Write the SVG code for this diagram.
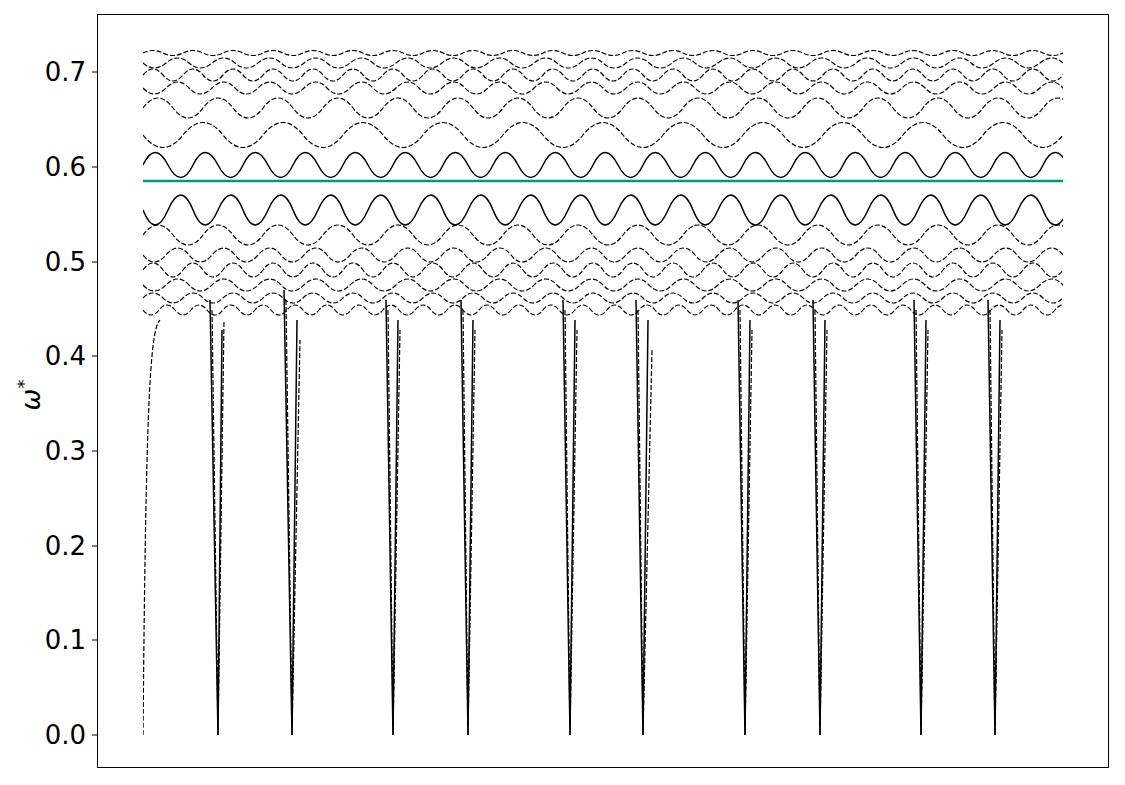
<svg xmlns="http://www.w3.org/2000/svg" width="1125" height="785" viewBox="0 0 1125 785">
<style>
.t{font-family:"DejaVu Sans",sans-serif;font-size:26px;fill:#000;text-anchor:end}
.d{fill:none;stroke:#000;stroke-width:1.2;stroke-dasharray:5,2}
.s{fill:none;stroke:#000;stroke-width:1.5}
</style>
<defs><clipPath id="c"><rect x="143" y="20" width="920" height="720"/></clipPath></defs>
<rect x="0" y="0" width="1125" height="785" fill="#fff"/>
<g id="axes">
<rect x="97.5" y="14.5" width="1011" height="753" fill="none" stroke="#000" stroke-width="1"/>
<g stroke="#000"><line x1="92" y1="735" x2="97" y2="735"/><line x1="92" y1="640" x2="97" y2="640"/><line x1="92" y1="546" x2="97" y2="546"/><line x1="92" y1="451" x2="97" y2="451"/><line x1="92" y1="356" x2="97" y2="356"/><line x1="92" y1="262" x2="97" y2="262"/><line x1="92" y1="167" x2="97" y2="167"/><line x1="92" y1="72" x2="97" y2="72"/></g>
<text class="t" x="86" y="744">0.0</text><text class="t" x="86" y="649">0.1</text><text class="t" x="86" y="555">0.2</text><text class="t" x="86" y="460">0.3</text><text class="t" x="86" y="365">0.4</text><text class="t" x="86" y="271">0.5</text><text class="t" x="86" y="176">0.6</text><text class="t" x="86" y="81">0.7</text>
<text x="40" y="395" font-family="DejaVu Sans,sans-serif" font-size="26" font-style="italic" transform="rotate(-90 40 395)" text-anchor="middle">ω<tspan dy="-10" font-size="18">*</tspan></text>
</g>
<g id="curves" clip-path="url(#c)">
<path class="d" d="M143,53 q10,-5 20,0 t20,0 t20,0 t20,0 t20,0 t20,0 t20,0 t20,0 t20,0 t20,0 t20,0 t20,0 t20,0 t20,0 t20,0 t20,0 t20,0 t20,0 t20,0 t20,0 t20,0 t20,0 t20,0 t20,0 t20,0 t20,0 t20,0 t20,0 t20,0 t20,0 t20,0 t20,0 t20,0 t20,0 t20,0 t20,0 t20,0 t20,0 t20,0 t20,0 t20,0 t20,0 t20,0 t20,0 t20,0 t20,0 t20,0 t20,0"/>
<path class="d" d="M143,63 q11,10 23,0 t23,0 t23,0 t23,0 t23,0 t23,0 t23,0 t23,0 t23,0 t23,0 t23,0 t23,0 t23,0 t23,0 t23,0 t23,0 t23,0 t23,0 t23,0 t23,0 t23,0 t23,0 t23,0 t23,0 t23,0 t23,0 t23,0 t23,0 t23,0 t23,0 t23,0 t23,0 t23,0 t23,0 t23,0 t23,0 t23,0 t23,0 t23,0 t23,0 t23,0 t23,0"/>
<path class="d" d="M143,75 q10,-12 20,0 t20,0 t20,0 t20,0 t20,0 t20,0 t20,0 t20,0 t20,0 t20,0 t20,0 t20,0 t20,0 t20,0 t20,0 t20,0 t20,0 t20,0 t20,0 t20,0 t20,0 t20,0 t20,0 t20,0 t20,0 t20,0 t20,0 t20,0 t20,0 t20,0 t20,0 t20,0 t20,0 t20,0 t20,0 t20,0 t20,0 t20,0 t20,0 t20,0 t20,0 t20,0 t20,0 t20,0 t20,0 t20,0 t20,0 t20,0"/>
<path class="d" d="M143,88 q11,12 23,0 t23,0 t23,0 t23,0 t23,0 t23,0 t23,0 t23,0 t23,0 t23,0 t23,0 t23,0 t23,0 t23,0 t23,0 t23,0 t23,0 t23,0 t23,0 t23,0 t23,0 t23,0 t23,0 t23,0 t23,0 t23,0 t23,0 t23,0 t23,0 t23,0 t23,0 t23,0 t23,0 t23,0 t23,0 t23,0 t23,0 t23,0 t23,0 t23,0 t23,0 t23,0"/>
<path class="d" d="M143,108 q15,-20 30,0 t30,0 t30,0 t30,0 t30,0 t30,0 t30,0 t30,0 t30,0 t30,0 t30,0 t30,0 t30,0 t30,0 t30,0 t30,0 t30,0 t30,0 t30,0 t30,0 t30,0 t30,0 t30,0 t30,0 t30,0 t30,0 t30,0 t30,0 t30,0 t30,0 t30,0 t30,0 t30,0"/>
<path class="d" d="M143,135 q20,25 40,0 t40,0 t40,0 t40,0 t40,0 t40,0 t40,0 t40,0 t40,0 t40,0 t40,0 t40,0 t40,0 t40,0 t40,0 t40,0 t40,0 t40,0 t40,0 t40,0 t40,0 t40,0 t40,0 t40,0"/>
<path class="s" d="M143,165 q12,-25 25,0 t25,0 t25,0 t25,0 t25,0 t25,0 t25,0 t25,0 t25,0 t25,0 t25,0 t25,0 t25,0 t25,0 t25,0 t25,0 t25,0 t25,0 t25,0 t25,0 t25,0 t25,0 t25,0 t25,0 t25,0 t25,0 t25,0 t25,0 t25,0 t25,0 t25,0 t25,0 t25,0 t25,0 t25,0 t25,0 t25,0 t25,0"/>
<path class="s" d="M143,210 q12,30 25,0 t25,0 t25,0 t25,0 t25,0 t25,0 t25,0 t25,0 t25,0 t25,0 t25,0 t25,0 t25,0 t25,0 t25,0 t25,0 t25,0 t25,0 t25,0 t25,0 t25,0 t25,0 t25,0 t25,0 t25,0 t25,0 t25,0 t25,0 t25,0 t25,0 t25,0 t25,0 t25,0 t25,0 t25,0 t25,0 t25,0 t25,0"/>
<path class="d" d="M143,235 q15,-20 30,0 t30,0 t30,0 t30,0 t30,0 t30,0 t30,0 t30,0 t30,0 t30,0 t30,0 t30,0 t30,0 t30,0 t30,0 t30,0 t30,0 t30,0 t30,0 t30,0 t30,0 t30,0 t30,0 t30,0 t30,0 t30,0 t30,0 t30,0 t30,0 t30,0 t30,0 t30,0 t30,0"/>
<path class="d" d="M143,255 q11,14 23,0 t23,0 t23,0 t23,0 t23,0 t23,0 t23,0 t23,0 t23,0 t23,0 t23,0 t23,0 t23,0 t23,0 t23,0 t23,0 t23,0 t23,0 t23,0 t23,0 t23,0 t23,0 t23,0 t23,0 t23,0 t23,0 t23,0 t23,0 t23,0 t23,0 t23,0 t23,0 t23,0 t23,0 t23,0 t23,0 t23,0 t23,0 t23,0 t23,0 t23,0 t23,0"/>
<path class="d" d="M143,270 q10,-14 20,0 t20,0 t20,0 t20,0 t20,0 t20,0 t20,0 t20,0 t20,0 t20,0 t20,0 t20,0 t20,0 t20,0 t20,0 t20,0 t20,0 t20,0 t20,0 t20,0 t20,0 t20,0 t20,0 t20,0 t20,0 t20,0 t20,0 t20,0 t20,0 t20,0 t20,0 t20,0 t20,0 t20,0 t20,0 t20,0 t20,0 t20,0 t20,0 t20,0 t20,0 t20,0 t20,0 t20,0 t20,0 t20,0 t20,0 t20,0"/>
<path class="d" d="M143,285 q11,12 23,0 t23,0 t23,0 t23,0 t23,0 t23,0 t23,0 t23,0 t23,0 t23,0 t23,0 t23,0 t23,0 t23,0 t23,0 t23,0 t23,0 t23,0 t23,0 t23,0 t23,0 t23,0 t23,0 t23,0 t23,0 t23,0 t23,0 t23,0 t23,0 t23,0 t23,0 t23,0 t23,0 t23,0 t23,0 t23,0 t23,0 t23,0 t23,0 t23,0 t23,0 t23,0"/>
<path class="d" d="M143,298 q10,-10 20,0 t20,0 t20,0 t20,0 t20,0 t20,0 t20,0 t20,0 t20,0 t20,0 t20,0 t20,0 t20,0 t20,0 t20,0 t20,0 t20,0 t20,0 t20,0 t20,0 t20,0 t20,0 t20,0 t20,0 t20,0 t20,0 t20,0 t20,0 t20,0 t20,0 t20,0 t20,0 t20,0 t20,0 t20,0 t20,0 t20,0 t20,0 t20,0 t20,0 t20,0 t20,0 t20,0 t20,0 t20,0 t20,0 t20,0 t20,0"/>
<path class="d" d="M143,310 q8,10 16,0 t16,0 t16,0 t16,0 t16,0 t16,0 t16,0 t16,0 t16,0 t16,0 t16,0 t16,0 t16,0 t16,0 t16,0 t16,0 t16,0 t16,0 t16,0 t16,0 t16,0 t16,0 t16,0 t16,0 t16,0 t16,0 t16,0 t16,0 t16,0 t16,0 t16,0 t16,0 t16,0 t16,0 t16,0 t16,0 t16,0 t16,0 t16,0 t16,0 t16,0 t16,0 t16,0 t16,0 t16,0 t16,0 t16,0 t16,0 t16,0 t16,0 t16,0 t16,0 t16,0 t16,0 t16,0 t16,0 t16,0 t16,0 t16,0 t16,0"/>
<path class="d" d="M143,735 C146,400 150,330 160,320"/>
<path class="s" d="M210,300 L218,735 L222,330 M284,290 L292,735 L297,320 M386,300 L393,735 L398,320 M461,300 L468,735 L473,320 M563,300 L570,735 L575,320 M636,300 L643,735 L648,320 M738,300 L745,735 L750,320 M813,300 L820,735 L825,320 M914,300 L921,735 L926,320 M988,300 L995,735 L1000,320"/>
<path class="d" d="M212,310 L218,735 L224,320 M286,300 L292,735 L300,340 M388,310 L393,735 L400,330 M463,310 L468,735 L475,330 M565,310 L570,735 L577,330 M638,310 L643,735 L652,350 M740,310 L745,735 L752,330 M815,310 L820,735 L827,330 M916,310 L921,735 L928,330 M990,310 L995,735 L1002,330"/>
</g>
<g id="mean"><line x1="143" y1="181" x2="1063" y2="181" stroke="#009688" stroke-width="2.5"/></g>
</svg>
